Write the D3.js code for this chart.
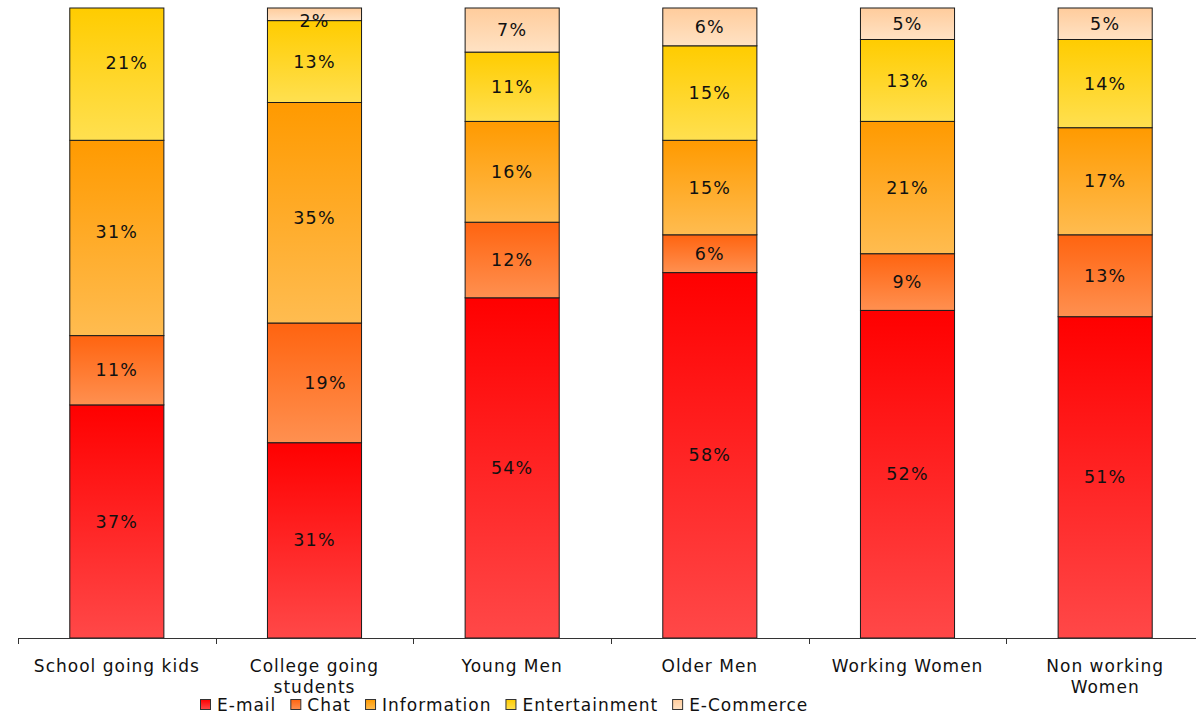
<!DOCTYPE html>
<html>
<head>
<meta charset="utf-8">
<script src="https://cdn.jsdelivr.net/npm/d3@7"></script>
<style>
  body { margin: 0; background: #fff; }
  svg { display: block; font-family: "DejaVu Sans", Verdana, sans-serif; }
</style>
</head>
<body>
<svg id="chart" width="1196" height="716"></svg>
<script>
// categories and series (percent share)
const categories = ["School going kids", "College going students", "Young Men", "Older Men", "Working Women", "Non working Women"];
const seriesNames = ["E-mail", "Chat", "Information", "Entertainment", "E-Commerce"];
const email = [37, 31, 54, 58, 52, 51];
const chat = [11, 19, 12, 6, 9, 13];
const information = [31, 35, 16, 15, 21, 17];
const entertainment = [21, 13, 11, 15, 13, 14];
const ecommerce = [0, 2, 7, 6, 5, 5];

// top / bottom colour of each series gradient
const gradTop = ["#ff0000", "#ff6410", "#ff9a00", "#ffcc00", "#ffcc9c"];
const gradBottom = ["#ff4848", "#ff9050", "#ffbc50", "#ffe050", "#ffe2c4"];

// hand-moved data labels in the original: [series, category, dx, dy]
const labelNudges = [
  [3, 0, 10, -11],
  [2, 0, 0, -6],
  [2, 1, 0, 5],
  [1, 1, 11, 0],
  [4, 1, 0, 7]
];

const width = 1196, height = 716;
const plotLeft = 18, plotRight = 1204, plotTop = 8, plotBottom = 638;

const svg = d3.select("#chart");

const rows = categories.map((c, i) => ({
  category: c,
  index: i,
  "E-mail": email[i],
  "Chat": chat[i],
  "Information": information[i],
  "Entertainment": entertainment[i],
  "E-Commerce": ecommerce[i]
}));

const stacked = d3.stack().keys(seriesNames)(rows);

const x = d3.scaleBand()
  .domain(categories)
  .range([plotLeft, plotRight])
  .paddingInner(0.524)
  .paddingOuter(0.262);

const y = d3.scaleLinear().domain([0, 100]).range([plotBottom, plotTop]);

// gradients
const defs = svg.append("defs");
seriesNames.forEach((s, i) => {
  const g = defs.append("linearGradient")
    .attr("id", "grad" + i)
    .attr("x1", 0).attr("y1", 0).attr("x2", 0).attr("y2", 1);
  g.append("stop").attr("offset", "0%").attr("stop-color", gradTop[i]);
  g.append("stop").attr("offset", "100%").attr("stop-color", gradBottom[i]);
});

// bars
const layer = svg.append("g")
  .selectAll("g")
  .data(stacked)
  .join("g")
  .attr("fill", (d, i) => `url(#grad${i})`);

layer.selectAll("rect")
  .data(d => d.filter(p => p[1] - p[0] > 0))
  .join("rect")
  .attr("x", d => x(d.data.category))
  .attr("y", d => y(d[1]))
  .attr("width", x.bandwidth())
  .attr("height", d => y(d[0]) - y(d[1]))
  .attr("stroke", "#1a1a1a")
  .attr("stroke-width", 1);

// data labels
function nudge(series, cat) {
  const n = labelNudges.find(a => a[0] === series && a[1] === cat);
  return n ? [n[2], n[3]] : [0, 0];
}

layer.each(function (s, si) {
  d3.select(this).selectAll("text")
    .data(s.filter(p => p[1] - p[0] > 0))
    .join("text")
    .attr("x", d => x(d.data.category) + x.bandwidth() / 2 + nudge(si, d.data.index)[0])
    .attr("y", d => (y(d[0]) + y(d[1])) / 2 + nudge(si, d.data.index)[1])
    .attr("dy", "0.35em")
    .attr("text-anchor", "middle")
    .attr("fill", "#111")
    .attr("font-size", 17.5)
    .attr("letter-spacing", 1.2)
    .text(d => (d[1] - d[0]) + "%");
});

// category axis
const axis = svg.append("g");
axis.append("line")
  .attr("x1", plotLeft).attr("x2", plotRight)
  .attr("y1", plotBottom + 0.5).attr("y2", plotBottom + 0.5)
  .attr("stroke", "#333");

d3.range(categories.length + 1).forEach(i => {
  const tx = Math.round(plotLeft + i * x.step()) + 0.5;
  axis.append("line")
    .attr("x1", tx).attr("x2", tx)
    .attr("y1", plotBottom).attr("y2", plotBottom + 6)
    .attr("stroke", "#333");
});

// wrap category labels to a max width
function wrapLines(text, maxW, measure) {
  const words = text.split(" ");
  const lines = [];
  let cur = "";
  words.forEach(w => {
    const t = cur ? cur + " " + w : w;
    if (measure(t) > maxW && cur) { lines.push(cur); cur = w; }
    else cur = t;
  });
  lines.push(cur);
  return lines;
}

const probe = svg.append("text")
  .attr("font-size", 17)
  .attr("letter-spacing", 1)
  .attr("visibility", "hidden");
const measure = s => { probe.text(s); return probe.node().getComputedTextLength(); };

categories.forEach(c => {
  const lines = wrapLines(c, 172, measure);
  const t = axis.append("text")
    .attr("text-anchor", "middle")
    .attr("font-size", 17)
    .attr("letter-spacing", 1)
    .attr("fill", "#111");
  lines.forEach((ln, j) => {
    t.append("tspan")
      .attr("x", x(c) + x.bandwidth() / 2)
      .attr("y", 672 + j * 21)
      .text(ln);
  });
});

// legend
const legend = svg.append("g");
let lx = 200;
const ly = 705;
seriesNames.forEach((s, i) => {
  legend.append("rect")
    .attr("x", lx + 0.5).attr("y", ly - 5.5)
    .attr("width", 10).attr("height", 10)
    .attr("fill", `url(#grad${i})`)
    .attr("stroke", "#333");
  legend.append("text")
    .attr("x", lx + 17)
    .attr("y", ly)
    .attr("dy", "0.35em")
    .attr("font-size", 17)
    .attr("letter-spacing", 1)
    .attr("fill", "#111")
    .text(s);
  lx += 17 + measure(s) + 14;
});
probe.remove();
</script>
</body>
</html>
